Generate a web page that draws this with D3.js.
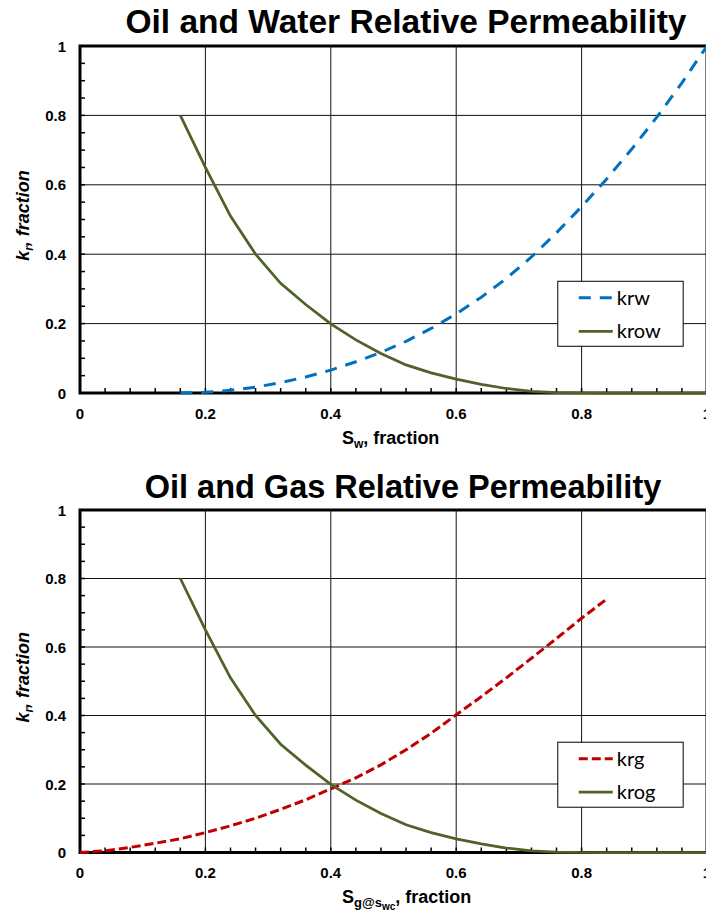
<!DOCTYPE html>
<meta charset="utf-8">
<script src="https://d3js.org/d3.v7.min.js"></script>
<title>Oil/Water and Oil/Gas Relative Permeability</title>

<style>
    body { margin: 0; background: #fff; }
    text { font-family: "Liberation Sans", Arial, sans-serif; }
    .legendText { font-family: Lato, "Open Sans", sans-serif; }
</style>

<div id="my_dataviz"></div>

<script>
    // water saturation (krw / krow)
    const sw   = [0.16, 0.20, 0.24, 0.28, 0.32, 0.36, 0.40, 0.44, 0.48, 0.52, 0.56,
                  0.60, 0.64, 0.68, 0.72, 0.76, 0.80, 0.84, 0.88, 0.92, 0.96, 1.00];
    const krw  = [0, 0.002, 0.008, 0.017, 0.030, 0.046, 0.066, 0.090, 0.117, 0.149, 0.186,
                  0.228, 0.276, 0.330, 0.392, 0.462, 0.537, 0.617, 0.703, 0.795, 0.894, 1.0];
    const krow = [0.80, 0.65, 0.51, 0.40, 0.316, 0.255, 0.199, 0.153, 0.114, 0.081, 0.058,
                  0.040, 0.025, 0.013, 0.005, 0.001, 0, 0, 0, 0, 0, 0];

    // gas saturation (krg)
    const sg  = [0, 0.04, 0.08, 0.12, 0.16, 0.20, 0.24, 0.28, 0.32, 0.36, 0.40,
                 0.44, 0.48, 0.52, 0.56, 0.60, 0.64, 0.68, 0.72, 0.76, 0.80, 0.84];
    const krg = [0, 0.005, 0.015, 0.027, 0.040, 0.058, 0.078, 0.100, 0.126, 0.154, 0.186,
                 0.218, 0.256, 0.300, 0.348, 0.402, 0.455, 0.510, 0.567, 0.625, 0.684, 0.740];

    // krog plotted on the same saturation points as krow
    const sgKrog = [0.16, 0.20, 0.24, 0.28, 0.32, 0.36, 0.40, 0.44, 0.48, 0.52, 0.56,
                    0.60, 0.64, 0.68, 0.72, 0.76, 0.80, 0.84, 0.88, 0.92, 0.96, 1.00];
    const krog   = [0.80, 0.65, 0.51, 0.40, 0.316, 0.255, 0.199, 0.153, 0.114, 0.081, 0.058,
                    0.040, 0.025, 0.013, 0.005, 0.001, 0, 0, 0, 0, 0, 0];

    const tickValues = [0, 0.2, 0.4, 0.6, 0.8, 1];
    const tickLabels = ["0", "0.2", "0.4", "0.6", "0.8", "1"];

    const svg = d3.select("#my_dataviz")
        .append("svg")
        .attr("width", 706)
        .attr("height", 911);

    const left = 80, right = 707;

    function drawPanel(p) {
        const x = d3.scaleLinear().domain([0, 1]).range([left, right]);
        const y = d3.scaleLinear().domain([0, 1]).range([p.bottom, p.top]);
        const g = svg.append("g");

        // grid
        g.append("g").selectAll("line")
            .data([0.2, 0.4, 0.6, 0.8])
            .join("line")
            .attr("x1", d => x(d)).attr("x2", d => x(d))
            .attr("y1", y(0)).attr("y2", y(1))
            .attr("stroke", "#111").attr("stroke-width", 1);
        g.append("g").selectAll("line")
            .data([0.2, 0.4, 0.6, 0.8])
            .join("line")
            .attr("y1", d => y(d)).attr("y2", d => y(d))
            .attr("x1", x(0)).attr("x2", x(1))
            .attr("stroke", "#111").attr("stroke-width", 1);

        // minor ticks pointing inside
        g.append("g").selectAll("line")
            .data(d3.range(1, 25).map(i => i * 0.04))
            .join("line")
            .attr("x1", d => x(d)).attr("x2", d => x(d))
            .attr("y1", y(0)).attr("y2", y(0) - 5)
            .attr("stroke", "#000").attr("stroke-width", 1.5);
        g.append("g").selectAll("line")
            .data(d3.range(1, 20).map(i => i * 0.05))
            .join("line")
            .attr("y1", d => y(d)).attr("y2", d => y(d))
            .attr("x1", x(0)).attr("x2", x(0) + 5)
            .attr("stroke", "#000").attr("stroke-width", 1.5);

        // frame
        g.append("rect")
            .attr("x", x(0)).attr("y", y(1))
            .attr("width", x(1) - x(0)).attr("height", y(0) - y(1))
            .attr("fill", "none").attr("stroke", "#000").attr("stroke-width", 3);

        // tick labels
        g.append("g").selectAll("text")
            .data(tickValues)
            .join("text")
            .attr("x", d => x(d)).attr("y", y(0) + 25.5)
            .attr("text-anchor", "middle")
            .style("font-size", "15px").style("font-weight", "bold")
            .text((d, i) => tickLabels[i]);
        g.append("g").selectAll("text")
            .data(tickValues)
            .join("text")
            .attr("x", 66).attr("y", d => y(d) + 5.5)
            .attr("text-anchor", "end")
            .style("font-size", "15px").style("font-weight", "bold")
            .text((d, i) => tickLabels[i]);

        // curves
        const line = d3.line().x(d => x(d[0])).y(d => y(d[1]));
        p.series.forEach(s => {
            g.append("path")
                .datum(s.xs.map((v, i) => [v, s.ys[i]]))
                .attr("d", line)
                .attr("fill", "none")
                .attr("stroke", s.color)
                .attr("stroke-width", s.width)
                .attr("stroke-dasharray", s.dash);
        });

        // title
        g.append("text")
            .attr("x", p.titleX).attr("y", p.titleY)
            .attr("text-anchor", "middle")
            .style("font-size", p.titleSize).style("font-weight", "bold")
            .text(p.title);

        // y axis title
        const yt = g.append("text")
            .attr("transform", `translate(29,${(y(0) + y(1)) / 2 - 4}) rotate(-90)`)
            .attr("text-anchor", "middle")
            .style("font-size", "18px").style("font-weight", "bold").style("font-style", "italic");
        yt.append("tspan").text("k");
        yt.append("tspan").attr("dy", 4).style("font-size", "12px").text("r");
        yt.append("tspan").attr("dy", -4).text(", fraction");

        // x axis title
        const xt = g.append("text")
            .attr("x", 342).attr("y", y(0) + 50.5)
            .style("font-size", "18px").style("font-weight", "bold");
        p.xTitle(xt);

        // legend
        const lx0 = x(0.762), lx1 = x(0.962);
        const ly0 = y(0.322);
        g.append("rect")
            .attr("x", lx0).attr("y", ly0)
            .attr("width", lx1 - lx0).attr("height", 65)
            .attr("fill", "#fff").attr("stroke", "#000").attr("stroke-width", 1);
        p.series.forEach((s, i) => {
            const ly = ly0 + 16.5 + i * 33.5;
            g.append("line")
                .attr("x1", lx0 + 21).attr("x2", lx0 + 55)
                .attr("y1", ly).attr("y2", ly)
                .attr("stroke", s.color).attr("stroke-width", s.width)
                .attr("stroke-dasharray", s.dash);
            g.append("text")
                .attr("class", "legendText")
                .attr("x", lx0 + 59).attr("y", ly + 7)
                .style("font-size", "20px")
                .text(s.name);
        });
    }

    drawPanel({
        top: 46, bottom: 393, titleY: 33, titleX: 406, titleSize: "33.5px",
        title: "Oil and Water Relative Permeability",
        series: [
            {name: "krw", xs: sw, ys: krw, color: "#0070C0", width: 3, dash: "12,9"},
            {name: "krow", xs: sw, ys: krow, color: "#4F6228", width: 2.75, dash: null}
        ],
        xTitle: t => {
            t.append("tspan").text("S");
            t.append("tspan").attr("dy", 4).style("font-size", "12px").text("w");
            t.append("tspan").attr("dy", -4).text(", fraction");
        }
    });

    drawPanel({
        top: 510, bottom: 852.5, titleY: 498, titleX: 403, titleSize: "32.5px",
        title: "Oil and Gas Relative Permeability",
        series: [
            {name: "krg", xs: sg, ys: krg, color: "#C00000", width: 3, dash: "9,4"},
            {name: "krog", xs: sgKrog, ys: krog, color: "#4F6228", width: 2.75, dash: null}
        ],
        xTitle: t => {
            t.append("tspan").text("S");
            t.append("tspan").attr("dy", 4).style("font-size", "13px").text("g@s");
            t.append("tspan").attr("dy", 3).style("font-size", "10px").text("wc");
            t.append("tspan").attr("dy", -7).text(", fraction");
        }
    });
</script>
